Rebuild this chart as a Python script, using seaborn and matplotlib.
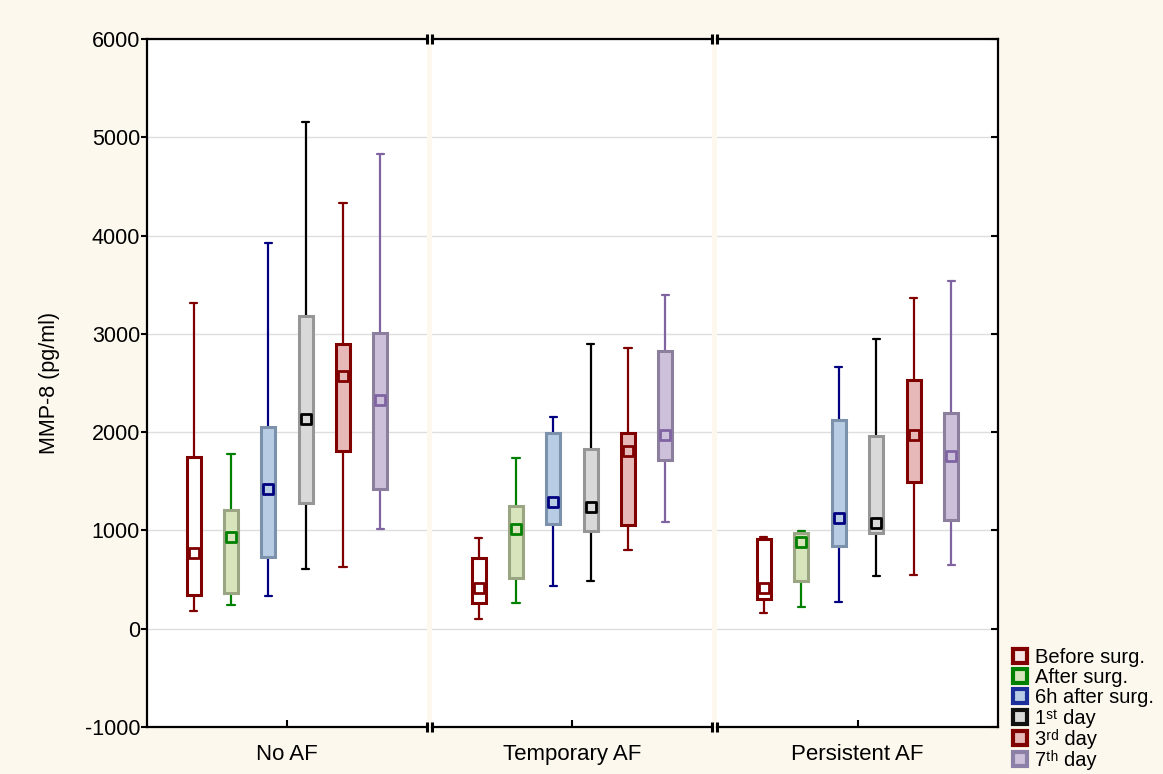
import matplotlib
matplotlib.use("Agg")
import matplotlib.pyplot as plt
from matplotlib.lines import Line2D
import numpy as np
import pandas as pd
import seaborn as sns

# ---- data: MMP-8 (pg/ml) per group and sampling time ----
groups = ["No AF", "Temporary AF", "Persistent AF"]
times = ["Before surg.", "After surg.", "6h after surg.", "1st day", "3rd day", "7th day"]
time_labels = ["Before surg.", "After surg.", "6h after surg.",
               "1\u02e2\u1d57 day", "3\u02b3\u1d48 day", "7\u1d57\u02b0 day"]

no_af_min = [185, 244, 332, 607, 628, 1012]
no_af_q1 = [339, 360, 726, 1284, 1808, 1421]
no_af_med = [768, 935, 1424, 2136, 2572, 2328]
no_af_q3 = [1752, 1204, 2052, 3183, 2897, 3009]
no_af_max = [3309, 1780, 3927, 5155, 4335, 4827]

temp_af_min = [102, 264, 434, 485, 797, 1085]
temp_af_q1 = [264, 515, 1068, 990, 1051, 1712]
temp_af_med = [414, 1017, 1288, 1234, 1810, 1973]
temp_af_q3 = [722, 1248, 1993, 1831, 1993, 2827]
temp_af_max = [925, 1736, 2159, 2898, 2861, 3397]

pers_af_min = [156, 217, 271, 536, 549, 651]
pers_af_q1 = [305, 481, 841, 969, 1495, 1108]
pers_af_med = [414, 881, 1125, 1071, 1976, 1756]
pers_af_q3 = [915, 976, 2119, 1959, 2532, 2193]
pers_af_max = [929, 993, 2658, 2946, 3363, 3536]

# ---- styling ----
box_fill = ["#ffffff", "#d8e4bc", "#b8cce4", "#d9d9d9", "#e6b9b8", "#ccc0da"]
box_edge = ["#800000", "#9aa583", "#7b91ac", "#969696", "#800000", "#8c7f9e"]
whisk_col = ["#800000", "#008000", "#000080", "#000000", "#800000", "#8064a2"]
mark_edge = ["#800000", "#008000", "#000080", "#000000", "#800000", "#8064a2"]
legend_fill = ["#f4e6e6", "#d8e4bc", "#b8cce4", "#d9d9d9", "#e6b9b8", "#ccc0da"]
legend_edge = ["#800000", "#008000", "#1a2f9a", "#111111", "#800000", "#8c7fa8"]
bg = "#fdf8ee"

sns.set_style("white")
plt.rcParams["font.family"] = ["Liberation Sans", "DejaVu Sans"]
plt.rcParams["axes.unicode_minus"] = False
plt.rcParams["text.color"] = "black"
plt.rcParams["xtick.color"] = "black"
plt.rcParams["ytick.color"] = "black"
plt.rcParams["axes.labelcolor"] = "black"

stats = {
    "No AF": (no_af_min, no_af_q1, no_af_med, no_af_q3, no_af_max),
    "Temporary AF": (temp_af_min, temp_af_q1, temp_af_med, temp_af_q3, temp_af_max),
    "Persistent AF": (pers_af_min, pers_af_q1, pers_af_med, pers_af_q3, pers_af_max),
}

# five summary values per box -> percentiles reproduce min/q1/median/q3/max
rows = []
med_rows = []
for g in groups:
    mn, q1, md, q3, mx = stats[g]
    for i, t in enumerate(times):
        for v in (mn[i], q1[i], md[i], q3[i], mx[i]):
            rows.append({"group": g, "time": t, "value": v})
        med_rows.append({"group": g, "time": t, "value": md[i]})
df = pd.DataFrame(rows)
med_df = pd.DataFrame(med_rows)

W, H = 1163, 774
fig = plt.figure(figsize=(W / 100, H / 100), dpi=100, facecolor=bg)

panel_left = [147, 432, 717]
panel_width = [280, 280, 281]
top_px, bot_px = 39, 727

fill_pal = dict(zip(times, box_fill))
axes = []
for k, g in enumerate(groups):
    ax = fig.add_axes([panel_left[k] / W, 1 - bot_px / H,
                       panel_width[k] / W, (bot_px - top_px) / H])
    ax.set_facecolor("white")
    axes.append(ax)
    gdf = df[df["group"] == g]
    gmed = med_df[med_df["group"] == g]
    for i, t in enumerate(times):
        n_lines = len(ax.lines)
        n_patches = len(ax.patches)
        sns.boxplot(data=gdf[gdf["time"] == t], x="group", y="value", hue="time",
                    hue_order=times, palette=fill_pal, saturation=1, dodge=True,
                    width=0.8, gap=0.62, whis=(0, 100), showfliers=False,
                    linewidth=2.2, linecolor=box_edge[i], legend=False, ax=ax)
        for p in ax.patches[n_patches:]:
            p.set_facecolor(box_fill[i])
            p.set_edgecolor(box_edge[i])
            p.set_linewidth(2.2)
            p.set_zorder(3)
        new_lines = ax.lines[n_lines:]
        for j, ln in enumerate(new_lines):
            if j < 4:
                ln.set_color(whisk_col[i])
                ln.set_linewidth(1.6)
                ln.set_zorder(2)
            else:
                ln.set_visible(False)
        sns.stripplot(data=gmed[gmed["time"] == t], x="group", y="value", hue="time",
                      hue_order=times, palette=fill_pal, dodge=True, jitter=False,
                      marker="s", size=6.5, linewidth=2, edgecolor=mark_edge[i],
                      legend=False, zorder=5, ax=ax)

    ax.set_ylim(-1000, 6000)
    ax.set_xlim(-0.5, 0.5)
    ax.set_yticks(np.arange(-1000, 6001, 1000))
    ax.yaxis.grid(True, color="#dedede", linewidth=1.0, zorder=0)
    ax.xaxis.grid(False)
    ax.set_axisbelow(True)
    ax.set_xlabel("")
    ax.set_ylabel("")
    ax.set_xticks([0])
    ax.set_xticklabels([g], fontsize=16)
    ax.tick_params(axis="x", direction="in", length=5, width=1.5, color="black",
                   pad=12, bottom=True)
    for side in ("top", "bottom"):
        ax.spines[side].set_visible(True)
        ax.spines[side].set_color("black")
        ax.spines[side].set_linewidth(1.6)
    ax.spines["left"].set_visible(k == 0)
    ax.spines["right"].set_visible(k == 2)
    for side in ("left", "right"):
        ax.spines[side].set_color("black")
        ax.spines[side].set_linewidth(1.6)
    if k == 0:
        ax.tick_params(axis="y", left=True, right=False, direction="out", length=4,
                       width=1.5, labelsize=15.5, pad=1)
    elif k == 2:
        ax.tick_params(axis="y", left=False, right=True, labelleft=False,
                       direction="in", length=5, width=1.5)
    else:
        ax.tick_params(axis="y", left=False, right=False, labelleft=False)

    # axis-break marks at the inner panel edges
    edges = []
    if k > 0:
        edges.append(0)
    if k < 2:
        edges.append(1)
    for xe in edges:
        for ye in (0, 1):
            ax.plot([xe, xe], [ye - 0.0075, ye + 0.0075], transform=ax.transAxes,
                    color="black", lw=2.2, clip_on=False, zorder=10,
                    solid_capstyle="butt")

axes[0].set_ylabel("MMP-8 (pg/ml)", fontsize=15.5, labelpad=18)

handles = [Line2D([], [], ls="", marker="s", ms=10, mew=3,
                  mec=legend_edge[i], mfc=legend_fill[i]) for i in range(len(times))]
fig.legend(handles, time_labels, loc="upper left",
           bbox_to_anchor=(1013 / W, 1 - 648 / H), frameon=False, fontsize=14.5,
           handlelength=0.7, handletextpad=0.4, labelspacing=0.06,
           borderpad=0, borderaxespad=0)

fig.savefig("out.png", dpi=100, facecolor=bg)
